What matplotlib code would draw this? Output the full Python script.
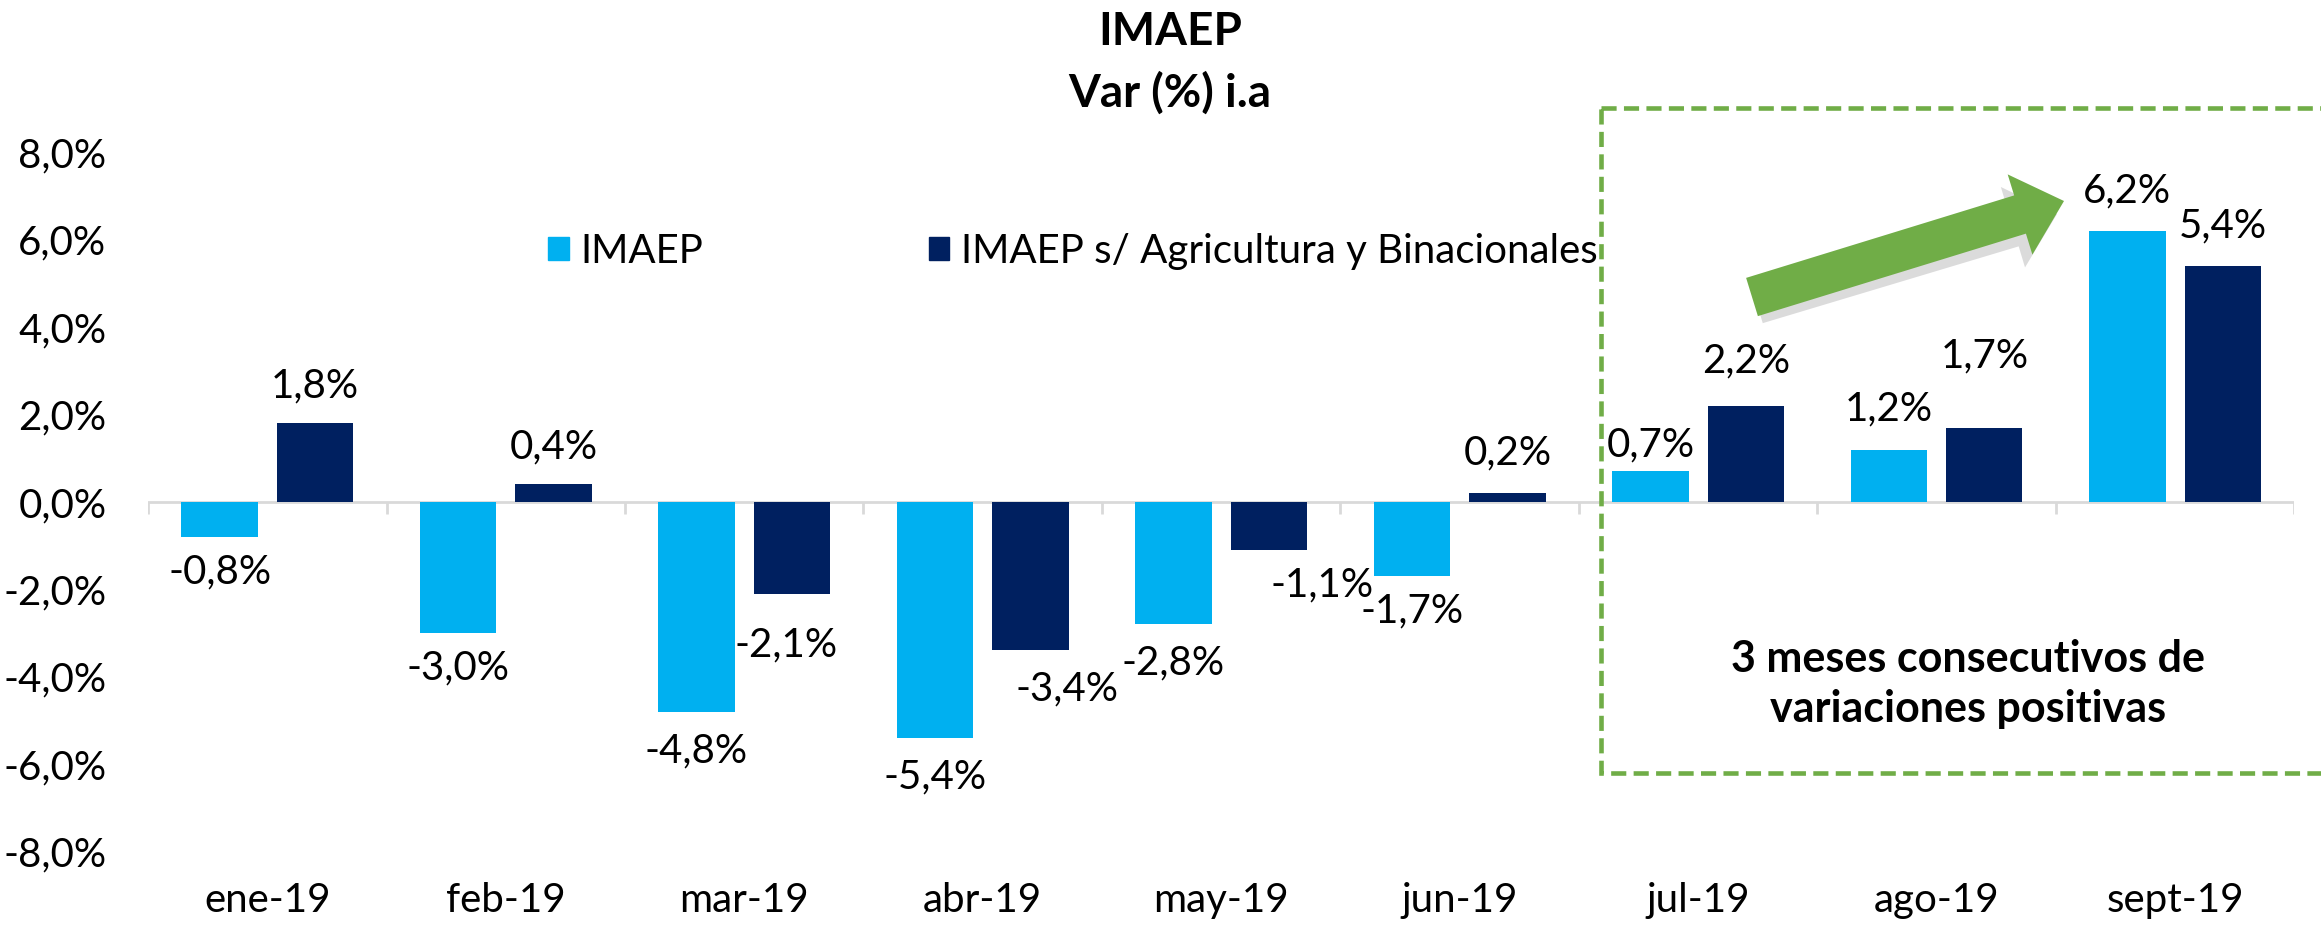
import numpy as np
import matplotlib.pyplot as plt
from matplotlib.patches import Patch, Rectangle, FancyArrow

plt.rcParams['font.family'] = ['Lato', 'DejaVu Sans']

#-------------------------------------
# DATA
months = ['ene-19', 'feb-19', 'mar-19', 'abr-19', 'may-19', 'jun-19', 'jul-19', 'ago-19', 'sept-19']
imaep = [-0.8, -3.0, -4.8, -5.4, -2.8, -1.7, 0.7, 1.2, 6.2]
imaep_sin_agro = [1.8, 0.4, -2.1, -3.4, -1.1, 0.2, 2.2, 1.7, 5.4]
y_ticks = [-8, -6, -4, -2, 0, 2, 4, 6, 8]

# label offsets in points (dx, dy) from bar end
off_imaep = [(0, -25), (0, -25), (0, -28), (0, -28), (0, -28), (0, -25), (0, 19), (0, 29), (0, 29)]
off_agro = [(0, 27), (0, 27), (-4, -37), (26, -28), (38, -25), (0, 29), (0, 32), (0, 52), (0, 29)]

c_light = '#00b0f0'
c_dark = '#002060'
c_green = '#70ad47'
fs = 29

def fmt(v):
    return f"{v:.1f}%".replace('.', ',')

#-------------------------------------
# FIGURE
fig = plt.figure(figsize=(23.21, 9.27), dpi=100)
ax = fig.add_axes([0.0638, 0.0815, 0.9247, 0.754])

x = np.arange(len(months))
w = 0.32
ax.bar(x - 0.2, imaep, w, color=c_light, zorder=3)
ax.bar(x + 0.2, imaep_sin_agro, w, color=c_dark, zorder=3)

for i in range(len(months)):
    ax.annotate(fmt(imaep[i]), (x[i] - 0.2, imaep[i]), xytext=off_imaep[i],
                textcoords='offset points', ha='center', va='center', fontsize=fs)
    ax.annotate(fmt(imaep_sin_agro[i]), (x[i] + 0.2, imaep_sin_agro[i]), xytext=off_agro[i],
                textcoords='offset points', ha='center', va='center', fontsize=fs)

# zero line with category separators
ax.axhline(0, color='#d9d9d9', lw=2, zorder=2)
ax.vlines(np.arange(len(months) + 1) - 0.5, -0.28, 0, color='#d9d9d9', lw=2, zorder=2)

ax.set_xlim(-0.5, len(months) - 0.5)
ax.set_ylim(-8, 8)
ax.set_yticks(y_ticks)
ax.set_yticklabels([fmt(v) for v in y_ticks])
ax.set_xticks(x)
ax.set_xticklabels(months)
ax.tick_params(axis='y', length=0, labelsize=fs, pad=30)
ax.tick_params(axis='x', length=0, labelsize=fs, pad=22)
for s in ax.spines.values():
    s.set_visible(False)

# title
fig.text(0.504, 0.966, 'IMAEP', ha='center', va='center', fontsize=33, fontweight='bold')
fig.text(0.504, 0.900, 'Var (%) i.a', ha='center', va='center', fontsize=33, fontweight='bold')

# legend
handles = [Patch(color=c_light, label='IMAEP'),
           Patch(color=c_dark, label='IMAEP s/ Agricultura y Binacionales')]
fig.legend(handles=handles, loc='center', bbox_to_anchor=(0.4624, 0.7284), ncol=2,
           frameon=False, fontsize=fs, handlelength=0.5, handleheight=0.5,
           handletextpad=0.3, columnspacing=5.6)

#-------------------------------------
# overlay in pixel coordinates for the box and arrow
ov = fig.add_axes([0, 0, 1, 1], zorder=5)
ov.set_xlim(0, 2321)
ov.set_ylim(927, 0)
ov.axis('off')
ov.patch.set_alpha(0)

ov.add_patch(Rectangle((1601, 108), 900, 665, fill=False, ec=c_green, lw=3.3,
                       ls=(0, (3.3, 1.6))))

# arrow shadow + arrow
ov.add_patch(FancyArrow(1757, 304, 300, -90, width=40, head_width=84, head_length=46,
                        length_includes_head=True, color='#999999', alpha=0.35, lw=0))
ov.add_patch(FancyArrow(1752, 297, 312, -96, width=40, head_width=84, head_length=46,
                        length_includes_head=True, color=c_green, lw=0))

fig.text(0.848, 0.262, '3 meses consecutivos de\nvariaciones positivas', ha='center', va='center',
         fontsize=31, fontweight='bold', linespacing=1.3)

plt.savefig('out.png', dpi=100)
